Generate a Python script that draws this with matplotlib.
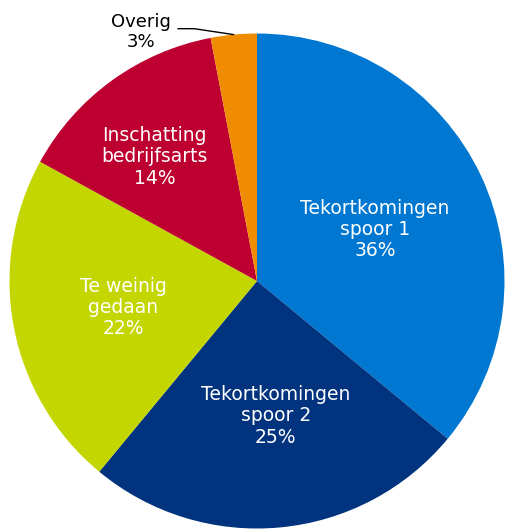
import numpy as np
import matplotlib.pyplot as plt

# aandeel per oorzaak (%)
labels = ['Tekortkomingen\nspoor 1', 'Tekortkomingen\nspoor 2', 'Te weinig\ngedaan',
          'Inschatting\nbedrijfsarts', 'Overig']
values = [36, 25, 22, 14, 3]
colors = ['#0077d0', '#01337f', '#c4d600', '#be0030', '#f08c00']
label_dist = [0.52, 0.55, 0.55, 0.65]
label_turn = [-1.5, 2.5, 0.5, 3.5]  # graden extra draaiing van het label

W, H = 506, 529
cx, cy, R = 257, 281, 247.5  # pixel positie van het midden en straal

fig = plt.figure(figsize=(W / 100, H / 100), dpi=100)
ax = fig.add_axes([0, 0, 1, 1])
wedges, _ = ax.pie(values, colors=colors, startangle=90, counterclock=False,
                   radius=1, wedgeprops=dict(linewidth=0))
ax.set_xlim(-cx / R, (W - cx) / R)
ax.set_ylim(-(H - cy) / R, cy / R)
ax.set_aspect('auto')
ax.axis('off')

for w, lab, v, d, t in zip(wedges[:4], labels[:4], values[:4], label_dist, label_turn):
    ang = np.deg2rad((w.theta1 + w.theta2) / 2 + t)
    ax.text(d * np.cos(ang), d * np.sin(ang), '%s\n%d%%' % (lab, v),
            ha='center', va='center', color='white', fontsize=13.5,
            linespacing=1.15)

# Overig buiten de taart met verbindingslijn
w = wedges[4]
ang = np.deg2rad((w.theta1 + w.theta2) / 2)
ax.annotate('%s\n%d%%' % (labels[4], values[4]),
            xy=(np.cos(ang), np.sin(ang)),
            xytext=((141 - cx) / R, (cy - 32) / R),
            ha='center', va='center', fontsize=13, linespacing=1.2,
            arrowprops=dict(arrowstyle='-', color='black', lw=1,
                            shrinkA=3, shrinkB=0, relpos=(1, 0.585),
                            connectionstyle='angle,angleA=0,angleB=-8.5,rad=0'))

plt.savefig('out.png', dpi=100)
